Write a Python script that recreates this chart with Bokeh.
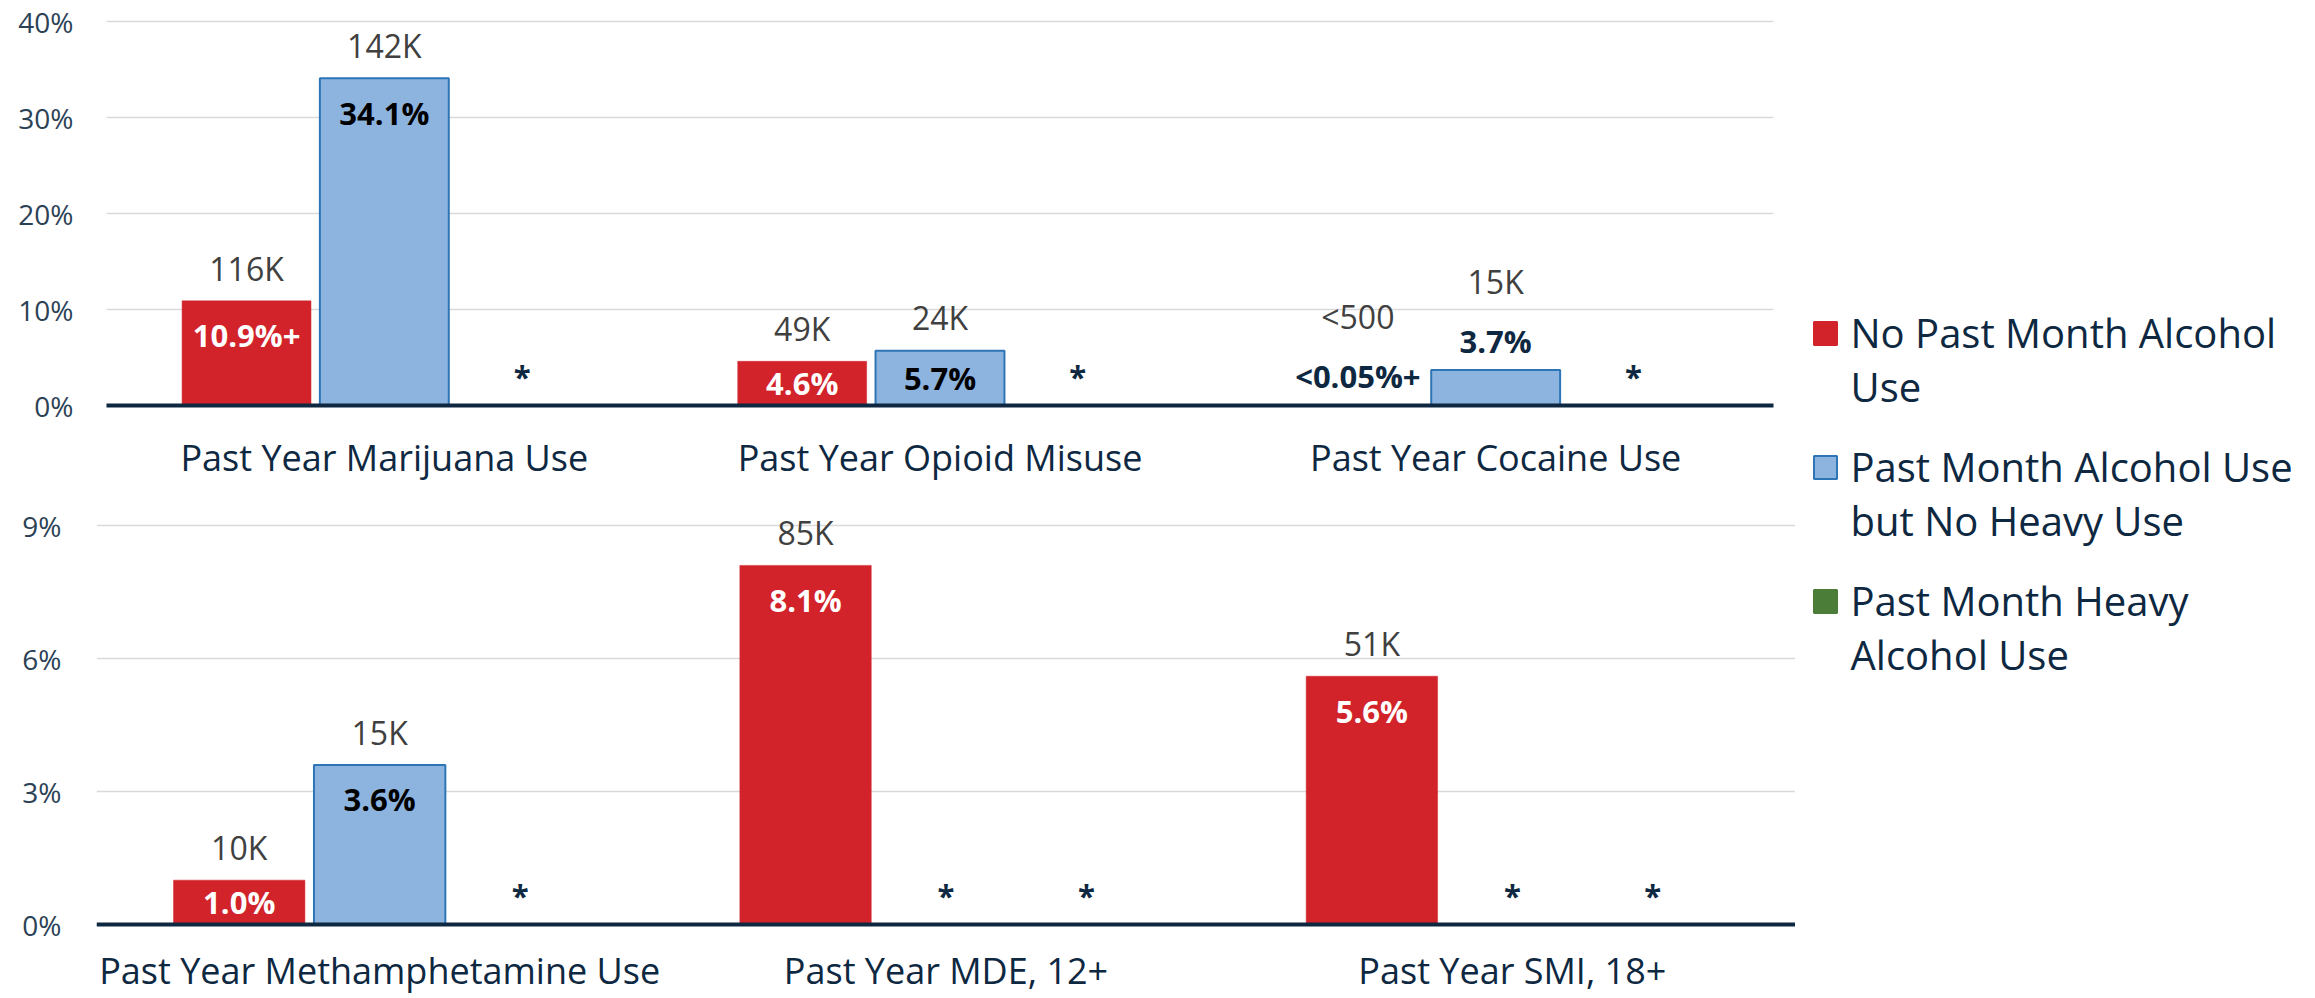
import math
from bokeh.plotting import figure
from bokeh.layouts import row, column
from bokeh.models import ColumnDataSource, Range1d, FactorRange, FixedTicker, PrintfTickFormatter, Span
from bokeh.transform import dodge
from bokeh.core.properties import value
from bokeh.embed import file_html
from bokeh.resources import INLINE

NAN = float("nan")

# ---------------- data ----------------
legend_labels = ["No Past Month Alcohol\nUse",
                 "Past Month Alcohol Use\nbut No Heavy Use",
                 "Past Month Heavy\nAlcohol Use"]

top_categories = ["Past Year Marijuana Use", "Past Year Opioid Misuse", "Past Year Cocaine Use"]
top_no_alcohol = [10.9, 4.6, 0.0]
top_alcohol_not_heavy = [34.1, 5.7, 3.7]
top_heavy_alcohol = [NAN, NAN, NAN]
top_no_alcohol_pct = ["10.9%+", "4.6%", "<0.05%+"]
top_alcohol_not_heavy_pct = ["34.1%", "5.7%", "3.7%"]
top_heavy_alcohol_pct = ["*", "*", "*"]
top_no_alcohol_count = ["116K", "49K", "<500"]
top_alcohol_not_heavy_count = ["142K", "24K", "15K"]
top_heavy_alcohol_count = ["", "", ""]
top_ticks = [0, 10, 20, 30, 40]

bottom_categories = ["Past Year Methamphetamine Use", "Past Year MDE, 12+", "Past Year SMI, 18+"]
bottom_no_alcohol = [1.0, 8.1, 5.6]
bottom_alcohol_not_heavy = [3.6, NAN, NAN]
bottom_heavy_alcohol = [NAN, NAN, NAN]
bottom_no_alcohol_pct = ["1.0%", "8.1%", "5.6%"]
bottom_alcohol_not_heavy_pct = ["3.6%", "*", "*"]
bottom_heavy_alcohol_pct = ["*", "*", "*"]
bottom_no_alcohol_count = ["10K", "85K", "51K"]
bottom_alcohol_not_heavy_count = ["15K", "", ""]
bottom_heavy_alcohol_count = ["", "", ""]
bottom_ticks = [0, 3, 6, 9]

# ---------------- style ----------------
FONT = "Open Sans"
RED = "#D2232A"
BLUE = "#8DB3DF"
BLUE_EDGE = "#2E75B6"
GREEN = "#4B7D38"
NAVY = "#0E2841"
TICK_COLOR = "#2B4256"
COUNT_COLOR = "#404040"
GRID = "#D9D9D9"
FILLS = [RED, BLUE, GREEN]
EDGES = [RED, BLUE_EDGE, GREEN]
INSIDE_COLORS = ["white", "#000000", "white"]
OFFSETS = [-0.248, 0.0, 0.248]
BAR_W = 0.232
CAT_FONT = 36
COUNT_FONT = 32
PCT_FONT = 31
LEG_FONT = 40
DESC = 0.37   # baseline correction (fraction of font size)

COL_W = 1795


def fix(px, size):
    # y offset for an alphabetic baseline placed px below (positive) the anchor
    return px - DESC * size


def panel(cats, series_vals, series_pct, series_cnt, ticks, height, b_left, b_right,
          b_top, b_bottom, y_start, y_end, tick_standoff, axis_below):
    frame_h = height - b_top - b_bottom
    ppu = frame_h / (y_end - y_start)
    p = figure(width=COL_W, height=height, x_range=FactorRange(*cats),
               y_range=Range1d(y_start, y_end), output_backend="svg", toolbar_location=None,
               tools="", min_border_left=b_left, min_border_right=b_right,
               min_border_top=b_top, min_border_bottom=b_bottom,
               x_axis_location="below" if axis_below else None)
    p.outline_line_color = None
    p.background_fill_color = "white"
    p.border_fill_color = "white"
    p.xgrid.grid_line_color = None
    p.ygrid.grid_line_color = GRID
    p.ygrid.grid_line_width = 1.5
    p.ygrid.ticker = FixedTicker(ticks=ticks)

    ya = p.yaxis[0]
    ya.ticker = FixedTicker(ticks=ticks)
    ya.formatter = PrintfTickFormatter(format="%d%%")
    ya.axis_line_color = None
    ya.major_tick_line_color = None
    ya.minor_tick_line_color = None
    ya.major_tick_out = 0
    ya.major_tick_in = 0
    ya.major_label_standoff = tick_standoff
    ya.major_label_text_font = FONT
    ya.major_label_text_font_size = "28px"
    ya.major_label_text_color = TICK_COLOR

    if axis_below:
        xa = p.xaxis[0]
        xa.axis_line_color = NAVY
        xa.axis_line_width = 4
        xa.major_tick_line_color = None
        xa.minor_tick_line_color = None
        xa.major_tick_out = 0
        xa.major_tick_in = 0
        xa.major_label_standoff = 27
        xa.major_label_text_font = FONT
        xa.major_label_text_font_size = f"{CAT_FONT}px"
        xa.major_label_text_color = NAVY
    else:
        p.add_layout(Span(location=0, dimension="width", line_color=NAVY, line_width=4))
        p.text(x=cats, y=[0] * len(cats), text=cats, y_offset=fix(59, CAT_FONT),
               text_font=value(FONT), text_font_size=f"{CAT_FONT}px", text_color=NAVY,
               text_align="center", text_baseline="alphabetic")

    for i in range(3):
        vals = series_vals[i]
        ly, pct_off, cnt_off, pct_col = [], [], [], []
        for v in vals:
            missing = v is None or (isinstance(v, float) and math.isnan(v))
            h = 0.0 if missing else v * ppu
            ly.append(0.0 if missing else v)
            if h < 40:
                pct_off.append(fix(-18, PCT_FONT)); cnt_off.append(fix(-77, COUNT_FONT))
                pct_col.append(NAVY)
            else:
                pct_off.append(fix(min(46, h / 2 + 11), PCT_FONT)); cnt_off.append(fix(-21, COUNT_FONT))
                pct_col.append(INSIDE_COLORS[i])
        src = ColumnDataSource(dict(cat=cats, val=vals, ly=ly, pct=series_pct[i], cnt=series_cnt[i],
                                    pct_off=pct_off, cnt_off=cnt_off, pct_col=pct_col))
        xx = dodge("cat", OFFSETS[i], range=p.x_range)
        p.vbar(x=xx, top="val", width=BAR_W, source=src, fill_color=FILLS[i],
               line_color=EDGES[i], line_width=2 if i == 1 else 0.5)
        p.text(x=xx, y="ly", text="cnt", y_offset="cnt_off", source=src,
               text_font=value(FONT), text_font_size=f"{COUNT_FONT}px", text_color=COUNT_COLOR,
               text_align="center", text_baseline="alphabetic")
        p.text(x=xx, y="ly", text="pct", y_offset="pct_off", source=src,
               text_font=value(FONT), text_font_size=f"{PCT_FONT}px", text_font_style="bold",
               text_color="pct_col", text_align="center", text_baseline="alphabetic")
    return p


# top panel: frame 13..405 px, 9.6 px per percentage point
top = panel(top_categories,
            [top_no_alcohol, top_alcohol_not_heavy, top_heavy_alcohol],
            [top_no_alcohol_pct, top_alcohol_not_heavy_pct, top_heavy_alcohol_pct],
            [top_no_alcohol_count, top_alcohol_not_heavy_count, top_heavy_alcohol_count],
            top_ticks, height=495, b_left=106, b_right=COL_W - 1773, b_top=13, b_bottom=90,
            y_start=0, y_end=392 / 9.6, tick_standoff=33, axis_below=True)

# bottom panel: frame 500..998 px, baseline at 924 px
BOT_PPU = 399 / 9.0
bottom = panel(bottom_categories,
               [bottom_no_alcohol, bottom_alcohol_not_heavy, bottom_heavy_alcohol],
               [bottom_no_alcohol_pct, bottom_alcohol_not_heavy_pct, bottom_heavy_alcohol_pct],
               [bottom_no_alcohol_count, bottom_alcohol_not_heavy_count, bottom_heavy_alcohol_count],
               bottom_ticks, height=503, b_left=96, b_right=0, b_top=5, b_bottom=0,
               y_start=-74 / BOT_PPU, y_end=424 / BOT_PPU, tick_standoff=35, axis_below=False)

# ---------------- legend ----------------
LEG_W, LEG_H = 2315 - COL_W, 998
leg = figure(width=LEG_W, height=LEG_H, x_range=Range1d(0, LEG_W), y_range=Range1d(LEG_H, 0),
             output_backend="svg", toolbar_location=None, tools="",
             min_border=0, min_border_left=0, min_border_right=0, min_border_top=0, min_border_bottom=0,
             x_axis_location=None, y_axis_location=None)
leg.grid.visible = False
leg.outline_line_color = None
leg.border_fill_color = "white"
item_y = [333, 467, 601]
leg.rect(x=[30] * 3, y=item_y, width=23, height=23, fill_color=FILLS,
         line_color=EDGES, line_width=2)
lx, ly_, lt = [], [], []
for yc, lab in zip(item_y, legend_labels):
    for k, line in enumerate(lab.split("\n")):
        lx.append(55); ly_.append(yc + 54 * k); lt.append(line)
leg.text(x=lx, y=ly_, text=lt, y_offset=fix(14, LEG_FONT), text_font=value(FONT),
         text_font_size=f"{LEG_FONT}px", text_color=NAVY, text_baseline="alphabetic",
         text_align="left")

layout = row(column(row(top), row(bottom)), leg)
open("out.html", "w").write(file_html(layout, INLINE))
